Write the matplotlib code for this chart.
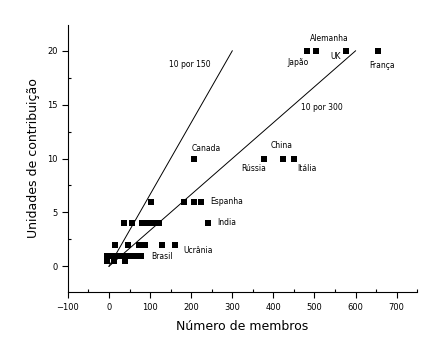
import matplotlib
matplotlib.use('Agg')
import matplotlib.pyplot as plt
from matplotlib.ticker import MultipleLocator

plt.rcParams['font.family'] = 'DejaVu Sans'

# membros (x) vs unidades de contribuição (y)
membros = [482, 503, 577, 654,            # Japão, Alemanha, UK, França
           206, 378, 423, 450,            # Canada, Rússia, China, Itália
           101, 183, 206, 225,            # linha 6 (Espanha)
           37, 57, 81, 96, 109, 122, 242,  # linha 4 (India)
           15, 47, 72, 88, 128, 161,       # linha 2 (Ucrânia)
           -4, 3, 12, 22, 32, 42, 52, 62, 72, 78,  # linha 1 (Brasil)
           -4, 13, 40]
unidades = [20, 20, 20, 20,
            10, 10, 10, 10,
            6, 6, 6, 6,
            4, 4, 4, 4, 4, 4, 4,
            2, 2, 2, 2, 2, 2,
            1, 1, 1, 1, 1, 1, 1, 1, 1, 1,
            0.5, 0.5, 0.5]

# reference lines: 10 units per 150 and per 300 members
line150_x = [0, 300]
line150_y = [0, 20]
line300_x = [0, 600]
line300_y = [0, 20]

labels = ['Alemanha', 'Japão', 'UK', 'França', 'Canada', 'China', 'Rússia',
          'Itália', 'Espanha', 'India', 'Ucrânia', 'Brasil', '10 por 150', '10 por 300']
label_x = [535, 459, 552, 664, 237, 419, 352, 482, 246, 263, 180, 104, 197, 519]
label_y = [21.1, 18.95, 19.5, 18.6, 10.9, 11.2, 9.1, 9.1, 6.05, 4.05, 1.5, 0.93, 18.7, 14.7]
label_ha = ['center', 'center', 'center', 'center', 'center', 'center', 'center',
            'center', 'left', 'left', 'left', 'left', 'center', 'center']

fig = plt.figure(figsize=(4.41, 3.62), dpi=100)
ax = fig.add_axes([0.154, 0.193, 0.792, 0.738])

ax.plot(line150_x, line150_y, color='black', linewidth=0.7)
ax.plot(line300_x, line300_y, color='black', linewidth=0.7)
ax.plot(membros, unidades, linestyle='none', marker='s', markersize=4.2,
        color='black', markeredgewidth=0)

for t, x, y, ha in zip(labels, label_x, label_y, label_ha):
    ax.text(x, y, t, ha=ha, va='center', fontsize=5.5)

ax.set_xlim(-100, 750)
ax.set_ylim(-2.4, 22.4)
ax.xaxis.set_major_locator(MultipleLocator(100))
ax.xaxis.set_minor_locator(MultipleLocator(50))
ax.yaxis.set_major_locator(MultipleLocator(5))
ax.yaxis.set_minor_locator(MultipleLocator(2.5))
ax.tick_params(which='major', direction='out', length=4, width=0.8, labelsize=6)
ax.tick_params(which='minor', direction='in', length=2.5, width=0.8)
ax.spines['top'].set_visible(False)
ax.spines['right'].set_visible(False)
ax.spines['left'].set_linewidth(0.8)
ax.spines['bottom'].set_linewidth(0.8)

ax.set_xlabel('Número de membros', fontsize=9, labelpad=6)
ax.set_ylabel('Unidades de contribuição', fontsize=9, labelpad=5)

fig.savefig('out.png', dpi=100)
